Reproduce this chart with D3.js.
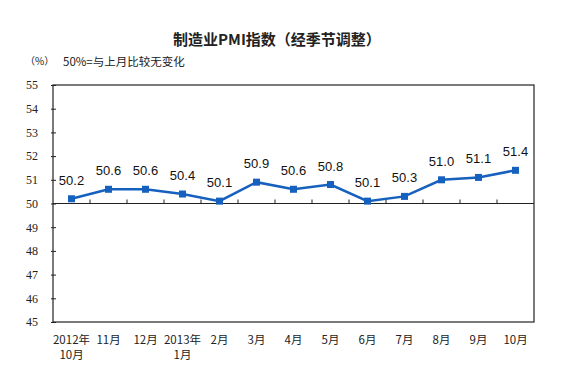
<!DOCTYPE html>
<html>
<head>
<meta charset="utf-8">
<script src="https://cdn.jsdelivr.net/npm/d3@7"></script>
<style>
  html, body { margin: 0; padding: 0; background: #fff; }
  svg { display: block; }
</style>
</head>
<body>
<div id="chart"></div>
<script>
// months on the x axis (two lines where needed)
const months = [
  ['2012年', '10月'], ['11月'], ['12月'], ['2013年', '1月'], ['2月'], ['3月'],
  ['4月'], ['5月'], ['6月'], ['7月'], ['8月'], ['9月'], ['10月']
]
const pmi = [50.2, 50.6, 50.6, 50.4, 50.1, 50.9, 50.6, 50.8, 50.1, 50.3, 51.0, 51.1, 51.4]
const yTicks = [45, 46, 47, 48, 49, 50, 51, 52, 53, 54, 55]

const width = 563, height = 371
const plotLeft = 53, plotRight = 534, plotTop = 85, plotBottom = 322
const blue = '#1660BE'
const cjk = '"Noto Sans CJK SC", sans-serif'

const svg = d3.select('#chart').append('svg')
  .attr('width', width)
  .attr('height', height)

const x = d3.scaleBand()
  .domain(d3.range(months.length))
  .range([plotLeft, plotRight])
  .padding(0)

const y = d3.scaleLinear()
  .domain([45, 55])
  .range([plotBottom, plotTop])

// title and notes
svg.append('text')
  .attr('x', 277).attr('y', 45)
  .attr('text-anchor', 'middle')
  .style('font-family', cjk)
  .style('font-size', '15px')
  .style('font-weight', 'bold')
  .style('fill', '#222')
  .text('制造业PMI指数（经季节调整）')

svg.append('text')
  .attr('x', 25).attr('y', 65)
  .style('font-family', cjk)
  .style('font-size', '10px')
  .style('fill', '#222')
  .text('（%）')

svg.append('text')
  .attr('x', 63).attr('y', 66)
  .style('font-family', cjk)
  .style('font-size', '11.5px')
  .style('fill', '#222')
  .text('50%=与上月比较无变化')

// plot frame
svg.append('rect')
  .attr('x', plotLeft).attr('y', plotTop)
  .attr('width', plotRight - plotLeft).attr('height', plotBottom - plotTop)
  .attr('fill', 'none')
  .attr('stroke', '#222')
  .attr('stroke-width', 1.2)

// y axis
const yAxis = svg.append('g')
  .attr('transform', 'translate(' + plotLeft + ',0)')
  .call(d3.axisLeft(y).tickValues(yTicks).tickSize(0).tickPadding(15))
yAxis.select('.domain').remove()
yAxis.selectAll('text')
  .style('font-family', '"Liberation Serif", serif')
  .style('font-size', '12px')
  .style('fill', '#222')
yAxis.selectAll('.tick').append('line')
  .attr('x1', -2).attr('x2', 3)
  .attr('stroke', '#222')

// x axis sits on the 50 line
const x0 = y(50)
svg.append('line')
  .attr('x1', plotLeft).attr('x2', plotRight)
  .attr('y1', x0).attr('y2', x0)
  .attr('stroke', '#222')
  .attr('stroke-width', 1.2)

svg.selectAll('.xtick')
  .data(d3.range(1, months.length))
  .enter()
  .append('line')
  .attr('class', 'xtick')
  .attr('x1', (d) => x(d)).attr('x2', (d) => x(d))
  .attr('y1', x0 - 4).attr('y2', x0)
  .attr('stroke', '#222')

const labels = svg.selectAll('.xlab')
  .data(months)
  .enter()
  .append('text')
  .attr('class', 'xlab')
  .attr('text-anchor', 'middle')
  .attr('transform', (d, i) => 'translate(' + (x(i) + x.bandwidth() / 2) + ',344)')
  .style('font-family', cjk)
  .style('font-size', '11.5px')
  .style('fill', '#222')
labels.selectAll('tspan')
  .data((d) => d)
  .enter()
  .append('tspan')
  .attr('x', 0)
  .attr('dy', (d, i) => (i === 0 ? 0 : 15))
  .text((d) => d)

// line + markers
const cx = (d, i) => x(i) + x.bandwidth() / 2

svg.append('path')
  .datum(pmi)
  .attr('fill', 'none')
  .attr('stroke', blue)
  .attr('stroke-width', 2.5)
  .attr('d', d3.line().x(cx).y((d) => y(d)))

svg.selectAll('.mark')
  .data(pmi)
  .enter()
  .append('rect')
  .attr('class', 'mark')
  .attr('x', (d, i) => cx(d, i) - 3.5)
  .attr('y', (d) => y(d) - 3.5)
  .attr('width', 7).attr('height', 7)
  .attr('fill', blue)

svg.selectAll('.val')
  .data(pmi)
  .enter()
  .append('text')
  .attr('class', 'val')
  .attr('text-anchor', 'middle')
  .attr('x', cx)
  .attr('y', (d) => y(d) - 14)
  .style('font-family', '"Liberation Sans", Arial, sans-serif')
  .style('font-size', '13px')
  .style('fill', '#111')
  .text((d) => d.toFixed(1))
</script>
</body>
</html>
